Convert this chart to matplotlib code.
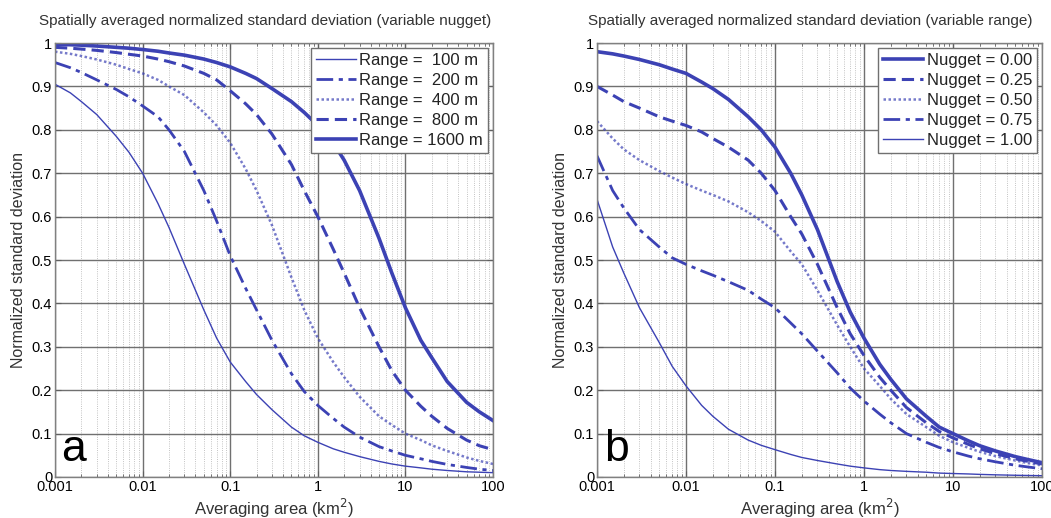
import matplotlib
matplotlib.use("Agg")
import matplotlib.pyplot as plt
from matplotlib.ticker import LogLocator, NullFormatter, FixedLocator

# ---- data ----
area = [0.001, 0.0015, 0.002, 0.003, 0.005, 0.007,
        0.01, 0.015, 0.02, 0.03, 0.05, 0.07,
        0.1, 0.15, 0.2, 0.3, 0.5, 0.7,
        1, 1.5, 2, 3, 5, 7,
        10, 15, 20, 30, 50, 70, 100]

# panel a: variable nugget, different ranges
range_100 = [0.905, 0.885, 0.865, 0.835, 0.785, 0.748,
             0.70, 0.63, 0.575, 0.49, 0.385, 0.32,
             0.265, 0.22, 0.19, 0.155, 0.115, 0.095,
             0.08, 0.065, 0.057, 0.047, 0.036, 0.03,
             0.025, 0.021, 0.018, 0.015, 0.012, 0.011, 0.01]
range_200 = [0.955, 0.943, 0.932, 0.915, 0.893, 0.876,
             0.855, 0.83, 0.80, 0.75, 0.66, 0.59,
             0.51, 0.435, 0.385, 0.315, 0.238, 0.197,
             0.165, 0.135, 0.115, 0.092, 0.07, 0.06,
             0.05, 0.042, 0.036, 0.029, 0.022, 0.018, 0.015]
range_400 = [0.98, 0.975, 0.97, 0.962, 0.95, 0.94,
             0.93, 0.915, 0.90, 0.88, 0.84, 0.81,
             0.77, 0.71, 0.66, 0.58, 0.46, 0.385,
             0.32, 0.265, 0.23, 0.185, 0.14, 0.12,
             0.10, 0.085, 0.073, 0.06, 0.045, 0.037, 0.03]
range_800 = [0.99, 0.988, 0.986, 0.983, 0.978, 0.974,
             0.97, 0.963, 0.957, 0.947, 0.93, 0.915,
             0.89, 0.86, 0.835, 0.79, 0.72, 0.66,
             0.60, 0.525, 0.47, 0.39, 0.30, 0.245,
             0.20, 0.163, 0.14, 0.112, 0.085, 0.072, 0.063]
range_1600 = [0.997, 0.996, 0.995, 0.993, 0.99, 0.988,
              0.985, 0.981, 0.977, 0.972, 0.963, 0.955,
              0.945, 0.93, 0.918, 0.895, 0.865, 0.84,
              0.81, 0.77, 0.73, 0.66, 0.55, 0.47,
              0.39, 0.315, 0.275, 0.22, 0.172, 0.15, 0.13]

# panel b: variable range, different nuggets
nug_000 = [0.98, 0.975, 0.97, 0.962, 0.95, 0.94,
           0.93, 0.91, 0.895, 0.87, 0.83, 0.80,
           0.76, 0.70, 0.65, 0.57, 0.45, 0.38,
           0.32, 0.26, 0.225, 0.18, 0.14, 0.115,
           0.10, 0.083, 0.072, 0.06, 0.047, 0.04, 0.033]
nug_025 = [0.90, 0.88, 0.865, 0.85, 0.83, 0.82,
           0.81, 0.795, 0.78, 0.76, 0.73, 0.70,
           0.66, 0.60, 0.56, 0.49, 0.39, 0.33,
           0.28, 0.23, 0.20, 0.16, 0.125, 0.105,
           0.09, 0.075, 0.065, 0.054, 0.042, 0.036, 0.03]
nug_050 = [0.82, 0.78, 0.755, 0.73, 0.705, 0.69,
           0.675, 0.66, 0.65, 0.635, 0.61, 0.59,
           0.565, 0.52, 0.49, 0.43, 0.35, 0.30,
           0.25, 0.21, 0.18, 0.145, 0.115, 0.095,
           0.08, 0.067, 0.058, 0.048, 0.038, 0.032, 0.027]
nug_075 = [0.74, 0.66, 0.62, 0.57, 0.53, 0.505,
           0.49, 0.475, 0.465, 0.45, 0.43, 0.41,
           0.39, 0.355, 0.33, 0.29, 0.24, 0.205,
           0.175, 0.145, 0.125, 0.10, 0.08, 0.068,
           0.058, 0.048, 0.042, 0.035, 0.027, 0.023, 0.019]
nug_100 = [0.64, 0.53, 0.47, 0.39, 0.31, 0.255,
           0.21, 0.165, 0.14, 0.11, 0.085, 0.073,
           0.063, 0.052, 0.045, 0.038, 0.03, 0.025,
           0.021, 0.017, 0.015, 0.013, 0.011, 0.009,
           0.008, 0.007, 0.006, 0.005, 0.004, 0.0035, 0.003]

labels_a = ["Range =  100 m", "Range =  200 m", "Range =  400 m", "Range =  800 m", "Range = 1600 m"]
labels_b = ["Nugget = 0.00", "Nugget = 0.25", "Nugget = 0.50", "Nugget = 0.75", "Nugget = 1.00"]

xticks = [0.001, 0.01, 0.1, 1, 10, 100]
xticklabels = ["0.001", "0.01", "0.1", "1", "10", "100"]
yticks = [0, 0.1, 0.2, 0.3, 0.4, 0.5, 0.6, 0.7, 0.8, 0.9, 1]
yticklabels = ["0", "0.1", "0.2", "0.3", "0.4", "0.5", "0.6", "0.7", "0.8", "0.9", "1"]

C = "#3c42b4"
plt.rcParams["font.family"] = ["Liberation Sans", "DejaVu Sans"]

fig = plt.figure(figsize=(10.51, 5.18), dpi=100)
ax1 = fig.add_axes([55 / 1051, 1 - 477 / 518, 438 / 1051, 434 / 518])
ax2 = fig.add_axes([597 / 1051, 1 - 477 / 518, 445 / 1051, 434 / 518])


def style(ax, title, letter):
    ax.set_xscale("log")
    ax.set_xlim(0.001, 100)
    ax.set_ylim(0, 1)
    ax.xaxis.set_major_locator(FixedLocator(xticks))
    ax.set_xticklabels(xticklabels)
    ax.xaxis.set_minor_locator(LogLocator(base=10, subs=range(2, 10), numticks=20))
    ax.xaxis.set_minor_formatter(NullFormatter())
    ax.set_yticks(yticks)
    ax.set_yticklabels(yticklabels)
    ax.grid(which="major", color="#707070", linewidth=1.0, linestyle="-")
    ax.grid(which="minor", axis="x", color="#b0b0b0", linewidth=0.6, linestyle=":")
    ax.set_axisbelow(True)
    ax.tick_params(which="both", direction="in", top=True, right=True, labelsize=10.5,
                   color="#606060", pad=2)
    ax.tick_params(which="major", length=4)
    ax.tick_params(which="minor", length=2.5)
    for s in ax.spines.values():
        s.set_color("#808080")
        s.set_linewidth(1.0)
    ax.set_title(title, fontsize=11, color="#333333", pad=13, x=0.48)
    ax.set_xlabel("Averaging area (km$^2$)", fontsize=12, color="#333333", labelpad=2)
    ax.set_ylabel("Normalized standard deviation", fontsize=11.5, color="#333333", labelpad=4)
    ax.text(0.015, 0.015, letter, transform=ax.transAxes, fontsize=32, color="black",
            ha="left", va="bottom")


ax1.plot(area, range_100, color=C, lw=1.0, ls="-", label=labels_a[0])
ax1.plot(area, range_200, color=C, lw=2.0, ls=(0, (6, 2, 1.5, 2)), label=labels_a[1])
ax1.plot(area, range_400, color=C, lw=1.8, ls=(0, (1, 1)), alpha=0.7, label=labels_a[2])
ax1.plot(area, range_800, color=C, lw=2.2, ls=(0, (4, 2)), label=labels_a[3])
ax1.plot(area, range_1600, color=C, lw=2.6, ls="-", label=labels_a[4])

ax2.plot(area, nug_000, color=C, lw=2.6, ls="-", label=labels_b[0])
ax2.plot(area, nug_025, color=C, lw=2.2, ls=(0, (4, 2)), label=labels_b[1])
ax2.plot(area, nug_050, color=C, lw=1.8, ls=(0, (1, 1)), alpha=0.7, label=labels_b[2])
ax2.plot(area, nug_075, color=C, lw=2.0, ls=(0, (6, 2, 1.5, 2)), label=labels_b[3])
ax2.plot(area, nug_100, color=C, lw=1.0, ls="-", label=labels_b[4])

style(ax1, "Spatially averaged normalized standard deviation (variable nugget)", "a")
style(ax2, "Spatially averaged normalized standard deviation (variable range)", "b")

for ax in (ax1, ax2):
    leg = ax.legend(loc="upper right", fontsize=12, handlelength=2.4, handletextpad=0.2,
                    labelspacing=0.3, borderpad=0.3, fancybox=False, framealpha=1,
                    edgecolor="#707070", borderaxespad=0.3)
    leg.get_frame().set_linewidth(1.0)
    for t in leg.get_texts():
        t.set_color("#222222")

fig.savefig("out.png", dpi=100)
